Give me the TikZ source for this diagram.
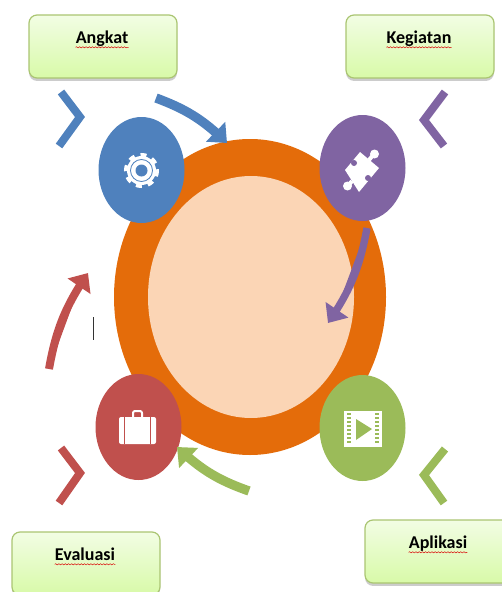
\documentclass[tikz,border=0pt]{standalone}
\usepackage{fontspec}
\setmainfont{Carlito}
\usetikzlibrary{arrows.meta,bending,shapes.geometric,shadows,decorations.pathmorphing}
\definecolor{ringcolor}{HTML}{E46C0A}
\definecolor{corecolor}{HTML}{FBD5B5}
\definecolor{bluecolor}{HTML}{4F81BD}
\definecolor{purplecolor}{HTML}{8064A2}
\definecolor{redcolor}{HTML}{C0504D}
\definecolor{greencolor}{HTML}{9BBB59}
\definecolor{boxtop}{HTML}{F2FDE4}
\definecolor{boxbottom}{HTML}{D8FAA8}
\tikzset{
  badge/.style={ellipse,inner sep=0pt,minimum width=64.5pt,minimum height=79.5pt},
  titlebox/.style={draw=greencolor!85,line width=.9pt,rounded corners=6pt,
    top color=boxtop,bottom color=boxbottom,
    minimum width=111pt,minimum height=47.25pt,
    drop shadow={shadow xshift=0pt,shadow yshift=-2.2pt,opacity=.4}},
  titletext/.style={inner sep=0pt,text height=8.5pt,text depth=2.8pt,font=\fontsize{13.5}{15}\selectfont\bfseries},
  wavy/.style={draw=red!85!black,line width=.35pt,decorate,
    decoration={snake,amplitude=.45pt,segment length=2.4pt}},
  chevron/.style={line width=6pt,miter limit=10},
  bow/.style={line width=#1,bend left=12,-{Triangle[length=12pt,width=20pt,flex=0]}},
  bow/.default=7pt
}
\begin{document}
\begin{tikzpicture}[x=.75pt,y=-.75pt]
  \path[use as bounding box,clip] (0,0) rectangle (502,592);
  % ring
  \node[ellipse,fill=ringcolor,inner sep=0pt,minimum width=204pt,minimum height=237pt] (ring) at (250,297) {};
  \node[ellipse,fill=corecolor,inner sep=0pt,minimum width=154.5pt,minimum height=181.5pt] (core) at (251,297) {};
  % badges
  \node[badge,fill=bluecolor] (gearbadge) at (141.5,170) {};
  \node[badge,fill=purplecolor] (puzzlebadge) at (362.5,168) {};
  \node[badge,fill=redcolor] (casebadge) at (138.5,427) {};
  \node[badge,fill=greencolor] (filmbadge) at (362.5,428) {};
  % boxes
  \node[titlebox] (angkat) at (103,46.5) {};
  \node[titlebox] (kegiatan) at (420,46.5) {};
  \node[titlebox] (evaluasi) at (86,563.5) {};
  \node[titlebox] (aplikasi) at (439,551.5) {};
  \node[titletext] (angkattext) at (102,39.5) {Angkat};
  \node[titletext] (kegiatantext) at (419,39.5) {Kegiatan};
  \node[titletext] (evaluasitext) at (85,556.5) {Evaluasi};
  \node[titletext] (aplikasitext) at (438,544.5) {Aplikasi};
  \draw[wavy] (angkattext.south west) -- (angkattext.south east);
  \draw[wavy] (kegiatantext.south west) -- (kegiatantext.south east);
  \draw[wavy] (evaluasitext.south west) -- (evaluasitext.south east);
  \draw[wavy] (aplikasitext.south west) -- (aplikasitext.south east);
  % chevrons
  \draw[chevron,draw=bluecolor] (61,92) -- (80,117) -- (59,146);
  \draw[chevron,draw=purplecolor] (445,92) -- (424,120) -- (444,146);
  \draw[chevron,draw=redcolor] (61,448) -- (80,473) -- (59,503);
  \draw[chevron,draw=greencolor] (445,449) -- (424,475) -- (444,503);
  % arrows
  \coordinate (bluefrom) at (156,98);
  \coordinate (blueto) at (227,143);
  \coordinate (purplefrom) at (367,228);
  \coordinate (purpleto) at (328,323);
  \coordinate (redfrom) at (49,369);
  \coordinate (redto) at (88,273);
  \coordinate (greenfrom) at (249,491);
  \coordinate (greento) at (177,447);
  \draw[bow,draw=bluecolor,fill=bluecolor] (bluefrom) to (blueto);
  \draw[bow=5.5pt,draw=purplecolor,fill=purplecolor] (purplefrom) to (purpleto);
  \draw[bow=6pt,draw=redcolor,fill=redcolor] (redfrom) to (redto);
  \draw[bow,draw=greencolor,fill=greencolor] (greenfrom) to (greento);
  % caret
  \coordinate (carettop) at (93,317);
  \coordinate (caretbottom) at (93,340);
  \draw[black!80,line width=.7pt] (carettop) -- (caretbottom);
  % gear
  \fill[white] (141.5,170.5) circle[radius=14.5];
  \draw[white,line width=3pt,dash pattern=on 4.4pt off 4.6pt] (141.5,170.5) circle[radius=15.5];
  \draw[bluecolor,line width=.6pt] (141.5,170.5) circle[radius=11];
  \fill[bluecolor] (141.5,170.5) circle[radius=6];
  % puzzle
  \fill[white] (360,152) -- (379,168) -- (359,192) -- (345,170) -- cycle;
  \draw[white,line width=3pt] (369,160) -- (374,154);
  \draw[white,line width=3pt] (352,181) -- (348,186);
  \fill[white] (374.5,154) circle[radius=4.5];
  \fill[white] (347.5,186) circle[radius=4.5];
  \fill[purplecolor] (354,163) circle[radius=3];
  \fill[purplecolor] (368,178) circle[radius=3];
  % suitcase
  \fill[white,rounded corners=1.5pt] (119,417) rectangle (156,444);
  \draw[white,line width=1.5pt,rounded corners=1.5pt] (133,417) -- (133,411) -- (142,411) -- (142,417);
  \draw[redcolor,line width=.9pt] (124.5,417) -- (124.5,444);
  \draw[redcolor,line width=.9pt] (150.5,417) -- (150.5,444);
  % film
  \fill[white] (344,411) rectangle (382,447);
  \draw[greencolor,line width=3pt,dash pattern=on 1.5pt off 1.5pt] (349,413) -- (349,445);
  \draw[greencolor,line width=3pt,dash pattern=on 1.5pt off 1.5pt] (377,413) -- (377,445);
  \fill[greencolor] (356,419) -- (372,429) -- (356,440) -- cycle;
\end{tikzpicture}
\end{document}
